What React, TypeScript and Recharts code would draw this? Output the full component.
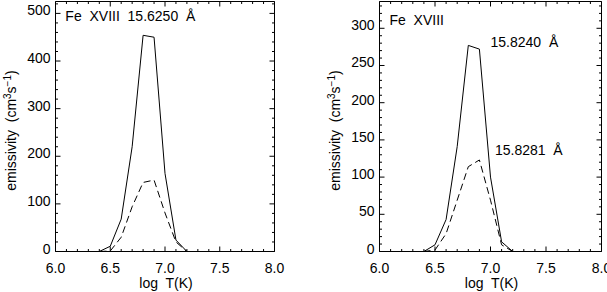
import React from 'react';
import { LineChart, Line, XAxis, YAxis, ReferenceDot } from 'recharts';

// log T grid (6.0 .. 8.0 step 0.1)
const logT = [6.0, 6.1, 6.2, 6.3, 6.4, 6.5, 6.6, 6.7, 6.8, 6.9, 7.0, 7.1, 7.2, 7.3, 7.4, 7.5, 7.6, 7.7, 7.8, 7.9, 8.0];

// Left panel: Fe XVIII 15.6250 A
const leftSolid = [0, 0, 0, 0, 0, 11, 68, 220, 454, 450, 164, 24, 0, 0, 0, 0, 0, 0, 0, 0, 0];
const leftDashed = [0, 0, 0, 0, 0, 1, 30, 94, 145, 150, 81, 20, 0, 0, 0, 0, 0, 0, 0, 0, 0];

// Right panel: Fe XVIII 15.8240 A (solid) and 15.8281 A (dashed)
const rightSolid = [0, 0, 0, 0, 0, 9, 43, 141, 277, 272, 100, 13, 0, 0, 0, 0, 0, 0, 0, 0, 0];
const rightDashed = [0, 0, 0, 0, 0, 2, 24, 69, 114, 123, 69, 9, 0, 0, 0, 0, 0, 0, 0, 0, 0];

const xTicks = [6.0, 6.1, 6.2, 6.3, 6.4, 6.5, 6.6, 6.7, 6.8, 6.9, 7.0, 7.1, 7.2, 7.3, 7.4, 7.5, 7.6, 7.7, 7.8, 7.9, 8.0];
const xMajor = [6.0, 6.5, 7.0, 7.5, 8.0];

const leftYTicks = [0, 20, 40, 60, 80, 100, 120, 140, 160, 180, 200, 220, 240, 260, 280, 300, 320, 340, 360, 380, 400, 420, 440, 460, 480, 500, 520];
const leftYMajor = [0, 100, 200, 300, 400, 500];
const rightYTicks = [0, 10, 20, 30, 40, 50, 60, 70, 80, 90, 100, 110, 120, 130, 140, 150, 160, 170, 180, 190, 200, 210, 220, 230, 240, 250, 260, 270, 280, 290, 300, 310, 320, 330];
const rightYMajor = [0, 50, 100, 150, 200, 250, 300];

const FONT = '"Liberation Sans", Arial, Helvetica, sans-serif';
const FS = 14;
const MAJ = 5;
const MIN = 2.5;

const isIn = (arr: number[], v: number) => arr.some((a) => Math.abs(a - v) < 1e-6);

const makeBottomTick = () => (props: any) => {
  const { x, y, payload } = props;
  const major = isIn(xMajor, payload.value);
  return (
    <g>
      <line x1={x} x2={x} y1={y} y2={y - (major ? MAJ : MIN)} stroke="#000" strokeWidth={1} />
      {major && (
        <text x={x} y={y + 21} textAnchor="middle" fontSize={FS} fontFamily={FONT} fill="#000">
          {payload.value.toFixed(1)}
        </text>
      )}
    </g>
  );
};

const makeTopTick = () => (props: any) => {
  const { x, y, payload } = props;
  const major = isIn(xMajor, payload.value);
  return <line x1={x} x2={x} y1={y} y2={y + (major ? MAJ : MIN)} stroke="#000" strokeWidth={1} />;
};

const makeLeftTick = (majors: number[]) => (props: any) => {
  const { x, y, payload } = props;
  const major = isIn(majors, payload.value);
  return (
    <g>
      <line x1={x} x2={x + (major ? MAJ : MIN)} y1={y} y2={y} stroke="#000" strokeWidth={1} />
      {major && (
        <text x={x - 5} y={y + 2} textAnchor="end" fontSize={FS} fontFamily={FONT} fill="#000">
          {String(payload.value)}
        </text>
      )}
    </g>
  );
};

const makeRightTick = (majors: number[]) => (props: any) => {
  const { x, y, payload } = props;
  const major = isIn(majors, payload.value);
  return <line x1={x} x2={x - (major ? MAJ : MIN)} y1={y} y2={y} stroke="#000" strokeWidth={1} />;
};

const YTitle = (props: any) => {
  const vb = props.viewBox;
  const cx = vb.x + vb.width - 40;
  const cy = vb.y + vb.height / 2 + 4;
  return (
    <text
      x={cx}
      y={cy}
      transform={`rotate(-90, ${cx}, ${cy})`}
      textAnchor="middle"
      fontSize={FS}
      fontFamily={FONT}
      fill="#000"
      style={{ whiteSpace: 'pre' }}
    >
      {'emissivity  (cm'}
      <tspan dy={-5} fontSize={10}>3</tspan>
      <tspan dy={5}>s</tspan>
      <tspan dy={-5} fontSize={10}>−1</tspan>
      <tspan dy={5}>)</tspan>
    </text>
  );
};

const XTitle = (props: any) => {
  const vb = props.viewBox;
  const cx = vb.x + vb.width / 2 + 1;
  return (
    <text
      x={cx}
      y={vb.y + 36}
      textAnchor="middle"
      fontSize={FS}
      fontFamily={FONT}
      fill="#000"
      style={{ whiteSpace: 'pre' }}
    >
      {'log  T(K)'}
    </text>
  );
};

const annot = (txt: string) => (props: any) => {
  const vb = props.viewBox;
  return (
    <text x={vb.x} y={vb.y} fontSize={FS} fontFamily={FONT} fill="#000" style={{ whiteSpace: 'pre' }}>
      {txt}
    </text>
  );
};

type PanelProps = {
  width: number;
  margin: { top: number; right: number; bottom: number; left: number };
  solid: number[];
  dashed: number[];
  yMax: number;
  yTicks: number[];
  yMajor: number[];
  notes: { x: number; y: number; text: string }[];
};

const AX = { stroke: '#000', strokeWidth: 1 };

const Panel = ({ width, margin, solid, dashed, yMax, yTicks, yMajor, notes }: PanelProps) => {
  const data = logT.map((t, i) => ({ t, s: solid[i], d: dashed[i] }));
  // axes occupy 1px each, so shrink margins accordingly
  const m = { top: margin.top - 1, right: margin.right - 1, bottom: margin.bottom - 1, left: margin.left - 1 };
  return (
    <LineChart width={width} height={292} data={data} margin={m}>
      <XAxis
        dataKey="t"
        type="number"
        domain={[6, 8]}
        allowDataOverflow
        ticks={xTicks}
        interval={0}
        height={1}
        tickSize={0}
        tickMargin={0}
        tickLine={false}
        axisLine={AX}
        tick={makeBottomTick()}
        label={XTitle}
      />
      <XAxis
        xAxisId="top"
        orientation="top"
        dataKey="t"
        type="number"
        domain={[6, 8]}
        allowDataOverflow
        ticks={xTicks}
        interval={0}
        height={1}
        tickSize={0}
        tickMargin={0}
        tickLine={false}
        axisLine={AX}
        tick={makeTopTick()}
      />
      <YAxis
        type="number"
        domain={[0, yMax]}
        allowDataOverflow
        ticks={yTicks}
        interval={0}
        width={1}
        tickSize={0}
        tickMargin={0}
        tickLine={false}
        axisLine={AX}
        tick={makeLeftTick(yMajor)}
        label={YTitle}
      />
      <YAxis
        yAxisId="right"
        orientation="right"
        type="number"
        domain={[0, yMax]}
        allowDataOverflow
        ticks={yTicks}
        interval={0}
        width={1}
        tickSize={0}
        tickMargin={0}
        tickLine={false}
        axisLine={AX}
        tick={makeRightTick(yMajor)}
      />
      <Line dataKey="s" stroke="#000" strokeWidth={1} dot={false} isAnimationActive={false} />
      <Line dataKey="d" stroke="#000" strokeWidth={1} strokeDasharray="7 4" dot={false} isAnimationActive={false} />
      {notes.map((n, i) => (
        <ReferenceDot key={i} x={n.x} y={n.y} r={0} fill="none" stroke="none" label={annot(n.text)} />
      ))}
    </LineChart>
  );
};

export default function App() {
  return (
    <div style={{ position: 'absolute', left: 0, top: 0, width: 607, height: 292, background: '#fff' }}>
      <div style={{ position: 'absolute', left: 0, top: 0 }}>
        <Panel
          width={300}
          margin={{ top: 1.5, right: 25.5, bottom: 40.5, left: 55.5 }}
          solid={leftSolid}
          dashed={leftDashed}
          yMax={525}
          yTicks={leftYTicks}
          yMajor={leftYMajor}
          notes={[{ x: 6.09, y: 484, text: 'Fe  XVIII  15.6250  Å' }]}
        />
      </div>
      <div style={{ position: 'absolute', left: 300, top: 0 }}>
        <Panel
          width={307}
          margin={{ top: 1.5, right: 5.5, bottom: 40.5, left: 79.5 }}
          solid={rightSolid}
          dashed={rightDashed}
          yMax={336}
          yTicks={rightYTicks}
          yMajor={rightYMajor}
          notes={[
            { x: 6.09, y: 304, text: 'Fe  XVIII' },
            { x: 7.0, y: 275, text: '15.8240  Å' },
            { x: 7.04, y: 130, text: '15.8281  Å' },
          ]}
        />
      </div>
    </div>
  );
}
